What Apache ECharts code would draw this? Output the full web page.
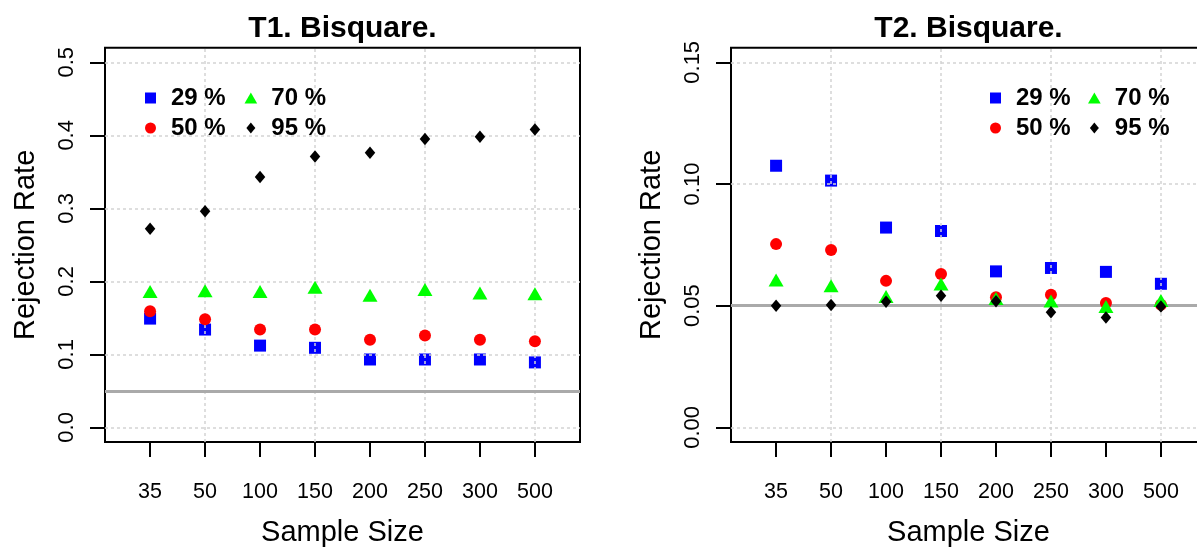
<!DOCTYPE html>
<html>
<head>
<meta charset="utf-8">
<script src="https://cdn.jsdelivr.net/npm/echarts@6/dist/echarts.min.js"></script>
<style>
  html, body { margin: 0; padding: 0; background: #ffffff; }
  #chart { width: 1197px; height: 548px; }
</style>
</head>
<body>
<div id="chart"></div>
<script>
// Sample sizes shown on the x axis (plotted at positions 1..8)
const sampleSizes = ['35', '50', '100', '150', '200', '250', '300', '500'];
const groupNames = ['29 %', '50 %', '70 %', '95 %'];

// T1. Bisquare. — rejection rates per group
const t1Rate29 = [0.149, 0.134, 0.112, 0.109, 0.093, 0.093, 0.093, 0.089];
const t1Rate50 = [0.159, 0.148, 0.134, 0.134, 0.120, 0.126, 0.120, 0.118];
const t1Rate70 = [0.183, 0.184, 0.183, 0.189, 0.178, 0.186, 0.181, 0.180];
const t1Rate95 = [0.272, 0.296, 0.343, 0.371, 0.376, 0.395, 0.398, 0.408];

// T2. Bisquare. — rejection rates per group
const t2Rate29 = [0.1075, 0.1014, 0.0821, 0.0807, 0.0641, 0.0655, 0.0639, 0.0590];
const t2Rate50 = [0.0753, 0.0729, 0.0602, 0.0630, 0.0535, 0.0545, 0.0511, 0.0504];
const t2Rate70 = [0.0597, 0.0573, 0.0529, 0.0580, 0.0521, 0.0510, 0.0488, 0.0512];
const t2Rate95 = [0.0500, 0.0503, 0.0516, 0.0541, 0.0518, 0.0473, 0.0452, 0.0497];

// Tick labels / reference levels
const t1YTicks = [0, 0.1, 0.2, 0.3, 0.4, 0.5];
const t2YTicks = [0, 0.05, 0.10, 0.15];
const xTickPositions = [1, 2, 3, 4, 5, 6, 7, 8];
const xGridPositions = [2, 4, 6, 8];
const nominalLevel = 0.05;

const FONT = 'Liberation Sans, Arial, Helvetica, sans-serif';

const groupStyles = [
  { symbol: 'rect', size: 12, offset: [0, 0], color: '#0000ff', icon: 'path://M0,0H10V10H0Z' },
  { symbol: 'circle', size: 12, offset: [0, 0], color: '#ff0000', icon: 'circle' },
  { symbol: 'triangle', size: [15, 13], offset: [0, -2.2], color: '#00ff00', icon: 'path://M0,12L6.93,0L13.86,12Z' },
  { symbol: 'diamond', size: [10.5, 12.5], offset: [0, 0], color: '#000000', icon: 'path://M4.5,0L9,5.5L4.5,11L0,5.5Z' }
];

const chart = echarts.init(document.getElementById('chart'), null, { renderer: 'canvas' });

function xAxisFor(gridIndex) {
  return {
    type: 'value', gridIndex: gridIndex, min: 0.18, max: 8.82,
    axisLine: { show: false, onZero: false },
    splitLine: { show: false },
    axisTick: { show: true, customValues: xTickPositions, length: 15, lineStyle: { color: '#000', width: 2 } },
    axisLabel: {
      customValues: xTickPositions, margin: 39, fontSize: 21.5, color: '#000', fontFamily: FONT,
      formatter: function (v) { return sampleSizes[Math.round(v) - 1]; }
    },
    name: 'Sample Size', nameLocation: 'middle', nameGap: 76,
    nameTextStyle: { fontSize: 29, color: '#000', fontFamily: FONT }
  };
}

function yAxisFor(gridIndex, min, max, ticks, digits) {
  return {
    type: 'value', gridIndex: gridIndex, min: min, max: max,
    axisLine: { show: false, onZero: false },
    splitLine: { show: false },
    axisTick: { show: true, customValues: ticks, length: 15, lineStyle: { color: '#000', width: 2 } },
    axisLabel: {
      customValues: ticks, rotate: 90, margin: 27, fontSize: 22, color: '#000', fontFamily: FONT,
      formatter: function (v) { return v.toFixed(digits); }
    },
    name: 'Rejection Rate', nameLocation: 'middle', nameGap: 65, nameRotate: 90,
    nameTextStyle: { fontSize: 29, color: '#000', fontFamily: FONT }
  };
}

// Builds the four point series of one panel, with grid lines and the 0.05 reference line
function panelSeries(gridIndex, rates, yTicks) {
  return rates.map(function (values, g) {
    const st = groupStyles[g];
    const s = {
      type: 'scatter', name: groupNames[g],
      xAxisIndex: gridIndex, yAxisIndex: gridIndex,
      symbol: st.symbol, symbolSize: st.size, symbolOffset: st.offset,
      itemStyle: { color: st.color, opacity: 1 },
      z: g === 0 ? 2 : 4,
      silent: true,
      emphasis: { disabled: true },
      data: values.map(function (v, i) { return [xTickPositions[i], v]; })
    };
    if (g === 0) {
      // dotted light-grey grid, drawn over the first group of points
      s.markLine = {
        z: 3, silent: true, symbol: ['none', 'none'], animation: false,
        label: { show: false }, emphasis: { disabled: true },
        lineStyle: { color: '#d3d3d3', width: 1.5, type: [3, 3] },
        data: xGridPositions.map(function (x) { return { xAxis: x }; })
          .concat(yTicks.map(function (y) { return { yAxis: y }; }))
      };
    }
    if (g === 1) {
      s.markLine = {
        z: 3, silent: true, symbol: ['none', 'none'], animation: false,
        label: { show: false }, emphasis: { disabled: true },
        lineStyle: { color: '#aaaaaa', width: 3, type: 'solid' },
        data: [{ yAxis: nominalLevel }]
      };
    }
    return s;
  });
}

function legendColumn(names, left) {
  return {
    orient: 'vertical', left: left, top: 83, padding: 0,
    itemWidth: 31, itemHeight: 11, itemGap: 0,
    selectedMode: false,
    textStyle: { fontSize: 24, fontWeight: 'bold', color: '#000', fontFamily: FONT, lineHeight: 22, padding: [8, 0, 0, 0] },
    data: names.map(function (n) { return { name: n, icon: groupStyles[groupNames.indexOf(n)].icon }; })
  };
}

const option = {
  animation: false,
  backgroundColor: '#ffffff',
  textStyle: { fontFamily: FONT },
  title: [
    { text: 'T1. Bisquare.', left: 342.5, top: 14, textAlign: 'center', padding: 0,
      textStyle: { fontSize: 30, fontWeight: 'bold', color: '#000', fontFamily: FONT } },
    { text: 'T2. Bisquare.', left: 968.5, top: 14, textAlign: 'center', padding: 0,
      textStyle: { fontSize: 30, fontWeight: 'bold', color: '#000', fontFamily: FONT } }
  ],
  legend: [
    legendColumn(['29 %', '50 %'], 145),
    legendColumn(['70 %', '95 %'], 244.5),
    legendColumn(['29 %', '50 %'], 990),
    legendColumn(['70 %', '95 %'], 1088)
  ],
  grid: [
    { left: 105, top: 47.7, width: 475, height: 394.3, show: true, borderColor: '#000', borderWidth: 2,
      backgroundColor: 'transparent', containLabel: false, outerBoundsMode: 'none' },
    { left: 731, top: 47.7, width: 475, height: 394.3, show: true, borderColor: '#000', borderWidth: 2,
      backgroundColor: 'transparent', containLabel: false, outerBoundsMode: 'none' }
  ],
  xAxis: [xAxisFor(0), xAxisFor(1)],
  yAxis: [
    yAxisFor(0, -0.02, 0.52, t1YTicks, 1),
    yAxisFor(1, -0.006, 0.156, t2YTicks, 2)
  ],
  series: panelSeries(0, [t1Rate29, t1Rate50, t1Rate70, t1Rate95], t1YTicks)
    .concat(panelSeries(1, [t2Rate29, t2Rate50, t2Rate70, t2Rate95], t2YTicks))
};

chart.setOption(option);
</script>
</body>
</html>
